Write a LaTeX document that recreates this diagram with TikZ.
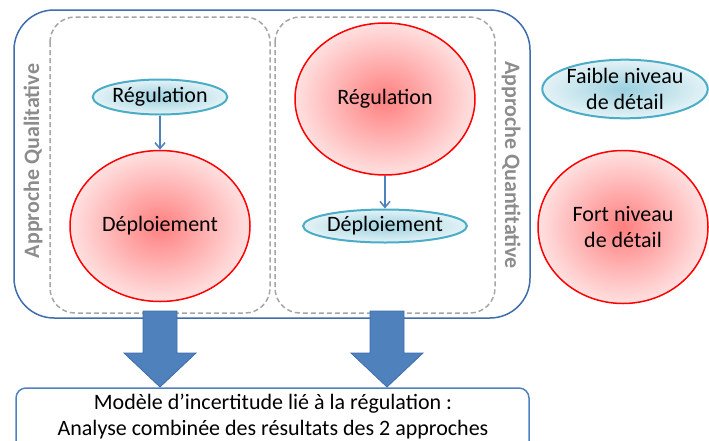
\documentclass[tikz,border=0pt]{standalone}
\usepackage{fontspec}
\setmainfont{Carlito}
\usetikzlibrary{shapes.geometric,arrows.meta,positioning}
\definecolor{boxblue}{HTML}{3F6CAB}
\definecolor{arrowblue}{HTML}{4F81BD}
\definecolor{cyanline}{HTML}{4BACC6}
\definecolor{dashgray}{HTML}{A6A6A6}
\definecolor{labelgray}{HTML}{8C8C8C}
\tikzset{
  fort/.style={ellipse, draw=red, line width=1.5pt, inner color=red!50, outer color=red!12, inner sep=0pt, align=center},
  faible/.style={ellipse, draw=cyanline, line width=2pt, inner color=cyanline!55, outer color=cyanline!15, inner sep=0pt, align=center},
  approche/.style={draw=dashgray, dash pattern=on 5pt off 3pt, line width=1.5pt, rounded corners=25pt},
  titre/.style={text=labelgray, font=\fontsize{22}{26}\selectfont\bfseries},
  fleche/.style={draw=arrowblue, line width=1.5pt, -{Straight Barb[length=6pt,width=10pt]}},
}
\begin{document}
\begin{tikzpicture}[x=1pt, y=-1pt, font=\fontsize{22}{26}\selectfont]
	\useasboundingbox (0,0) rectangle (709,440);
	\clip (0,0) rectangle (709,440);
	
	% cadre des deux approches
	\draw[boxblue, line width=1.5pt, rounded corners=40pt] (14,10) rectangle (530,318);
	\draw[approche] (50,17) rectangle (270,313);
	\draw[approche] (275,17) rectangle (495,313);
	
	\node[titre, rotate=90] (qualitative) at (33,161) {Approche Qualitative};
	\node[titre, rotate=-90] (quantitative) at (511,165) {Approche Quantitative};
	
	% approche qualitative
	\node[faible, minimum width=114, minimum height=35] (regQual) at (160,97) {Régulation};
	\node[fort, minimum width=180, minimum height=151] (depQual) at (160,226) {Déploiement};
	\draw[fleche] (regQual) -- (depQual);
	
	% approche quantitative
	\node[fort, minimum width=180, minimum height=152] (regQuant) at (385,99) {Régulation};
	\node[faible, minimum width=134, minimum height=33] (depQuant) at (385,226) {Déploiement};
	\draw[fleche] (regQuant) -- (depQuant);
	
	% legende
	\node[faible, minimum width=146, minimum height=53] (legFaible) at (625,89) {Faible niveau\\de détail};
	\node[fort, minimum width=170, minimum height=153] (legFort) at (623,227) {Fort niveau\\de détail};
	
	% modele
	\draw[arrowblue, line width=1.5pt, rounded corners=10pt] (16,388) rectangle (529,470);
	\node[align=center] (modele) at (273,417) {Modèle d’incertitude lié à la régulation :\\Analyse combinée des résultats des 2 approches};
	
	\foreach \cx in {160,387}
		\filldraw[fill=arrowblue, draw=boxblue, line width=0.8pt] ({\cx-17},311) -- ({\cx+17},311) -- ({\cx+17},353) -- ({\cx+36},353) -- (\cx,387) -- ({\cx-36},353) -- ({\cx-17},353) -- cycle;
\end{tikzpicture}
\end{document}
